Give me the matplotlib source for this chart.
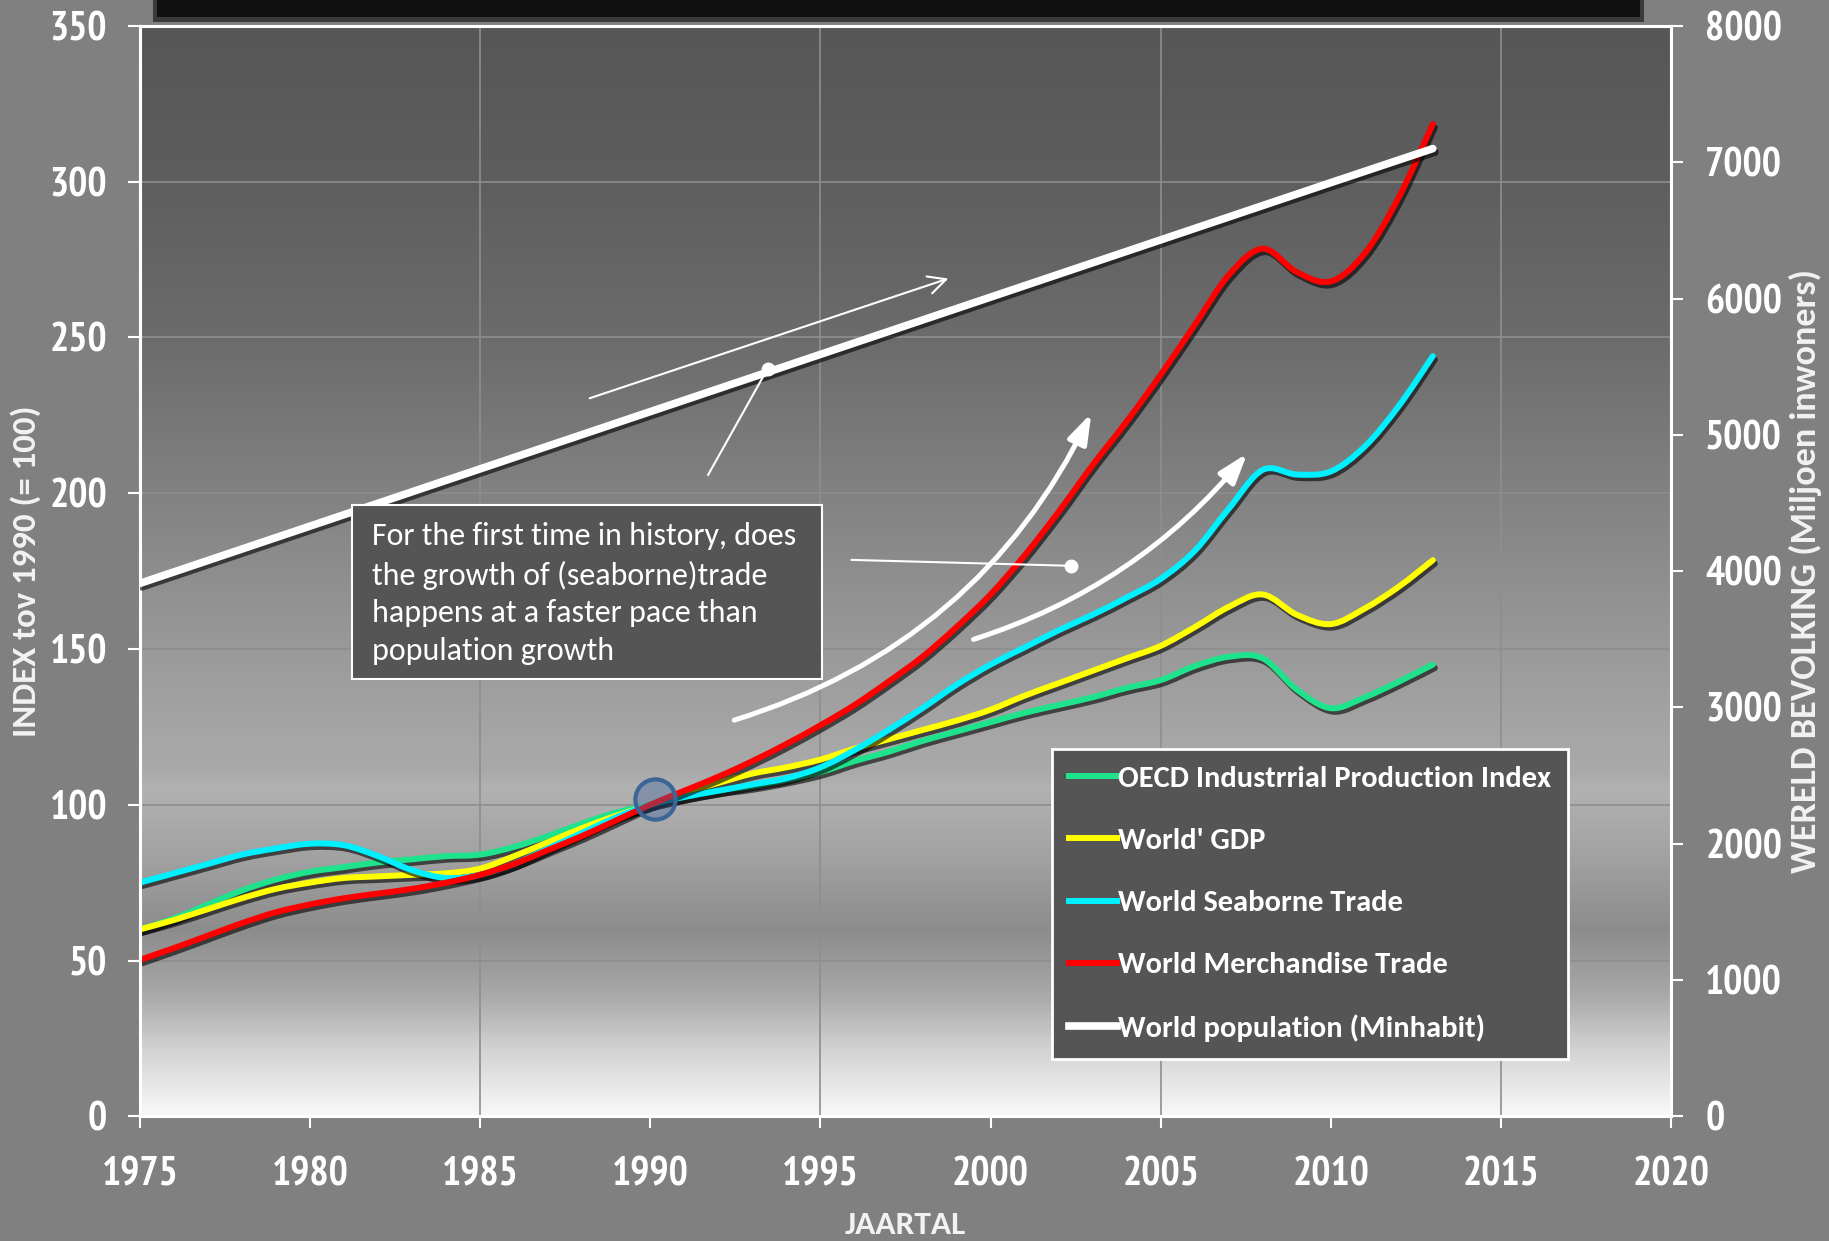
import matplotlib
matplotlib.use("Agg")
import matplotlib.pyplot as plt
import matplotlib.patheffects as pe
from matplotlib.colors import LinearSegmentedColormap
from matplotlib.patches import Rectangle, PathPatch
from matplotlib.lines import Line2D
from matplotlib.path import Path
import numpy as np

# values
years = list(range(1975, 2014))
oecd = [60, 63.5, 68, 72.5, 76, 78.5, 80, 81.5, 82.5, 83.5,
        84, 86.5, 90, 94, 97.5, 100, 102.5, 104.5, 106, 108,
        110.5, 114, 117, 120.5, 123.5, 126.5, 129.5, 132, 134.5, 137.5,
        140, 144.5, 147.5, 147, 137, 131, 134.5, 139.5, 145]
gdp = [60, 63, 66.5, 70, 73, 75, 76.5, 77, 77.5, 78,
       79.5, 83.5, 88, 92.5, 96.5, 100, 104, 107, 110, 112,
       114.5, 118, 121, 124, 127, 130.5, 135, 139, 143, 147,
       151, 157, 163.5, 167.5, 161, 158, 163, 170, 178.5]
seaborne = [75, 78, 81, 84, 86, 87.5, 87, 83.5, 79, 76.5,
            77.5, 81, 86, 91, 96, 100, 102.5, 104.5, 106.5, 108.5,
            112, 117.5, 124, 131, 138.5, 145, 150.5, 156, 161, 166.5,
            172.5, 181.5, 195, 207.5, 206, 207, 215, 228, 244]
merchandise = [50.2, 54, 58, 62, 65.5, 68, 70, 71.5, 73, 75,
               77.5, 81, 85.5, 90, 95, 100, 104.5, 109, 114, 119.5,
               125.5, 132, 139.5, 147.5, 157, 167.5, 180, 194, 209, 223,
               238, 254, 270, 278.5, 271, 268, 277, 295, 318.5]
pop_years = [1975, 1980, 1985, 1990, 1995, 2000, 2005, 2010, 2013]
population = [3910, 4330, 4750, 5170, 5590, 6010, 6430, 6850, 7100]

labels = ["OECD Industrrial Production Index", "World' GDP", "World Seaborne Trade",
          "World Merchandise Trade", "World population (Minhabit)"]
colors = ["#1fe38c", "#ffff00", "#00f0ff", "#ff0000", "#ffffff"]

note = ("For the first time in history, does\nthe growth of (seaborne)trade\n"
        "happens at a faster pace than\npopulation growth")

calibri = ["Carlito", "PT Sans Narrow", "DejaVu Sans"]
narrow = ["PT Sans Narrow", "DejaVu Sans"]
plt.rcParams["font.family"] = narrow
plt.rcParams["font.weight"] = "bold"


def smooth_path(xs, ys):
    # Excel-style smoothed line: cubic Bezier segments through the points
    pts = np.column_stack([xs, ys]).astype(float)
    verts = [pts[0]]
    codes = [Path.MOVETO]
    n = len(pts)
    for i in range(n - 1):
        p0 = pts[max(i - 1, 0)]
        p1 = pts[i]
        p2 = pts[i + 1]
        p3 = pts[min(i + 2, n - 1)]
        verts += [p1 + (p2 - p0) / 6, p2 - (p3 - p1) / 6, p2]
        codes += [Path.CURVE4] * 3
    return Path(verts, codes)


fig = plt.figure(figsize=(18.29, 12.41), dpi=100, facecolor="#808080")
ax = fig.add_axes([0.0765, 0.1005, 0.8371, 0.8786])

# dark bar at the top of the slide
fig.patches.append(Rectangle((0.0838, 0.982), 0.815, 0.03, transform=fig.transFigure,
                             facecolor="#3a3a3a", edgecolor="none"))
fig.patches.append(Rectangle((0.0858, 0.986), 0.811, 0.02, transform=fig.transFigure,
                             facecolor="#111111", edgecolor="none"))

# background gradient
stops = [(0.0, "#f8f8f8"), (0.06, "#d2d2d2"), (0.11, "#a8a8a8"), (0.17, "#8c8c8c"),
         (0.23, "#a0a0a0"), (0.30, "#b2b2b2"), (0.315, "#a9a9a9"), (0.34, "#a7a7a7"),
         (0.43, "#999999"), (0.57, "#828282"), (0.71, "#6c6c6c"), (0.86, "#5e5e5e"),
         (1.0, "#565656")]
bg = LinearSegmentedColormap.from_list("bg", stops)
ax.imshow(np.linspace(0, 1, 512).reshape(-1, 1), origin="lower", cmap=bg,
          extent=[1975, 2020, 0, 350], aspect="auto", zorder=0)

shadow = [pe.SimpleLineShadow(offset=(1.5, -2.5), shadow_color="black", alpha=0.6), pe.Normal()]
handles = []
for vals, col, lab in zip([oecd, gdp, seaborne, merchandise], colors, labels):
    ax.add_patch(PathPatch(smooth_path(years, vals), fill=False, edgecolor=col, lw=4.3,
                           capstyle="round", joinstyle="round", zorder=3,
                           path_effects=shadow))
    handles.append(Line2D([], [], color=col, lw=4.3, label=lab))

ax.set_xlim(1975, 2020)
ax.set_ylim(0, 350)
ax.set_xticks(range(1975, 2021, 5))
ax.xaxis.remove_overlapping_locs = False
ax.set_xticks([1985, 1995, 2005, 2015], minor=True)
ax.set_yticks(range(0, 351, 50))
ax.set_axisbelow(True)
ax.grid(axis="y", color="#8e8e8e", lw=1.2)
ax.xaxis.grid(True, which="minor", color="#8e8e8e", lw=1.2)
ax.xaxis.grid(False, which="major")
ax.tick_params(which="minor", length=0)
ax.tick_params(axis="both", which="major", colors="white", length=8.6, width=1.5, labelsize=29)
ax.tick_params(axis="y", pad=15)
ax.tick_params(axis="x", pad=20)

ax.set_ylabel("INDEX tov 1990 (= 100)", color="#f2f2f2", fontsize=25, labelpad=6,
              family=calibri, fontweight="bold")
ax.set_xlabel("JAARTAL", color="#f2f2f2", fontsize=24, labelpad=13, family=calibri,
              fontweight="bold")

ax2 = ax.twinx()
ax2.plot(pop_years, population, color=colors[4], lw=5.5, label=labels[4], zorder=3,
         solid_capstyle="round", path_effects=shadow)
handles.append(Line2D([], [], color=colors[4], lw=5.5, label=labels[4]))
ax2.set_ylim(0, 8000)
ax2.set_yticks(range(0, 8001, 1000))
ax2.tick_params(axis="y", colors="white", length=8.6, width=1.5, labelsize=29, pad=16)
ax2.set_ylabel("WERELD BEVOLKING (Miljoen inwoners)", color="#f2f2f2", fontsize=26,
               labelpad=5, family=calibri, fontweight="bold")
ax.set_autoscale_on(False)
ax2.set_autoscale_on(False)

for a in (ax, ax2):
    for s in a.spines.values():
        s.set_color("white")
        s.set_linewidth(2.2)

# annotations (positions in index units)
ax2.annotate("", xy=(1998.84, 269.2), xytext=(1988.14, 230.2), xycoords=ax.transData,
             textcoords=ax.transData,
             arrowprops=dict(arrowstyle="->", color="white", lw=1.5, mutation_scale=32))
ax2.plot([1991.70, 1993.45], [205.9, 240.0], color="white", lw=1.5, transform=ax.transData, zorder=5)
ax2.plot([1993.45], [240.0], "o", color="white", ms=9, transform=ax.transData, zorder=5)
ax2.plot([1995.92, 2002.37], [178.6, 176.7], color="white", lw=1.5, transform=ax.transData, zorder=5)
ax2.plot([2002.37], [176.7], "o", color="white", ms=9, transform=ax.transData, zorder=5)
ax2.annotate("", xy=(2003.0, 226.5), xytext=(1992.39, 126.9), xycoords=ax.transData,
             textcoords=ax.transData,
             arrowprops=dict(arrowstyle="-|>,head_length=0.9,head_width=0.3", color="white",
                             lw=3.6, mutation_scale=20, connectionstyle="arc3,rad=0.22"))
ax2.annotate("", xy=(2007.6, 213.5), xytext=(1999.42, 152.8), xycoords=ax.transData,
             textcoords=ax.transData,
             arrowprops=dict(arrowstyle="-|>,head_length=0.9,head_width=0.3", color="white",
                             lw=3.6, mutation_scale=20, connectionstyle="arc3,rad=0.15"))

# blue marker at the base year
ax2.plot([1990.13], [101.8], "o", ms=29, mfc=(0.25, 0.40, 0.62, 0.4), mec="#3d6496",
         mew=3, transform=ax.transData, zorder=6)

# text box
ax2.add_patch(Rectangle((0.1385, 0.401), 0.307, 0.1596, transform=ax2.transAxes,
                        facecolor="#555555", edgecolor="white", lw=1.5, zorder=7))
ax2.text(0.1515, 0.545, note, transform=ax2.transAxes, ha="left", va="top", color="white",
         family=["Carlito", "Lato", "DejaVu Sans"], fontweight="normal", fontsize=23,
         linespacing=1.43, zorder=8)

leg = ax2.legend(handles, labels, loc="upper left", bbox_to_anchor=(0.596, 0.337),
                 borderaxespad=0, frameon=True, fancybox=False, facecolor="#555555",
                 edgecolor="white", framealpha=1, handlelength=1.55, handletextpad=0.05,
                 labelspacing=1.17, borderpad=0.55,
                 prop=dict(family=calibri, weight="bold", size=22), labelcolor="white")
leg.get_frame().set_linewidth(2)
leg.set_zorder(10)

fig.savefig("out.png", dpi=100, facecolor=fig.get_facecolor())
